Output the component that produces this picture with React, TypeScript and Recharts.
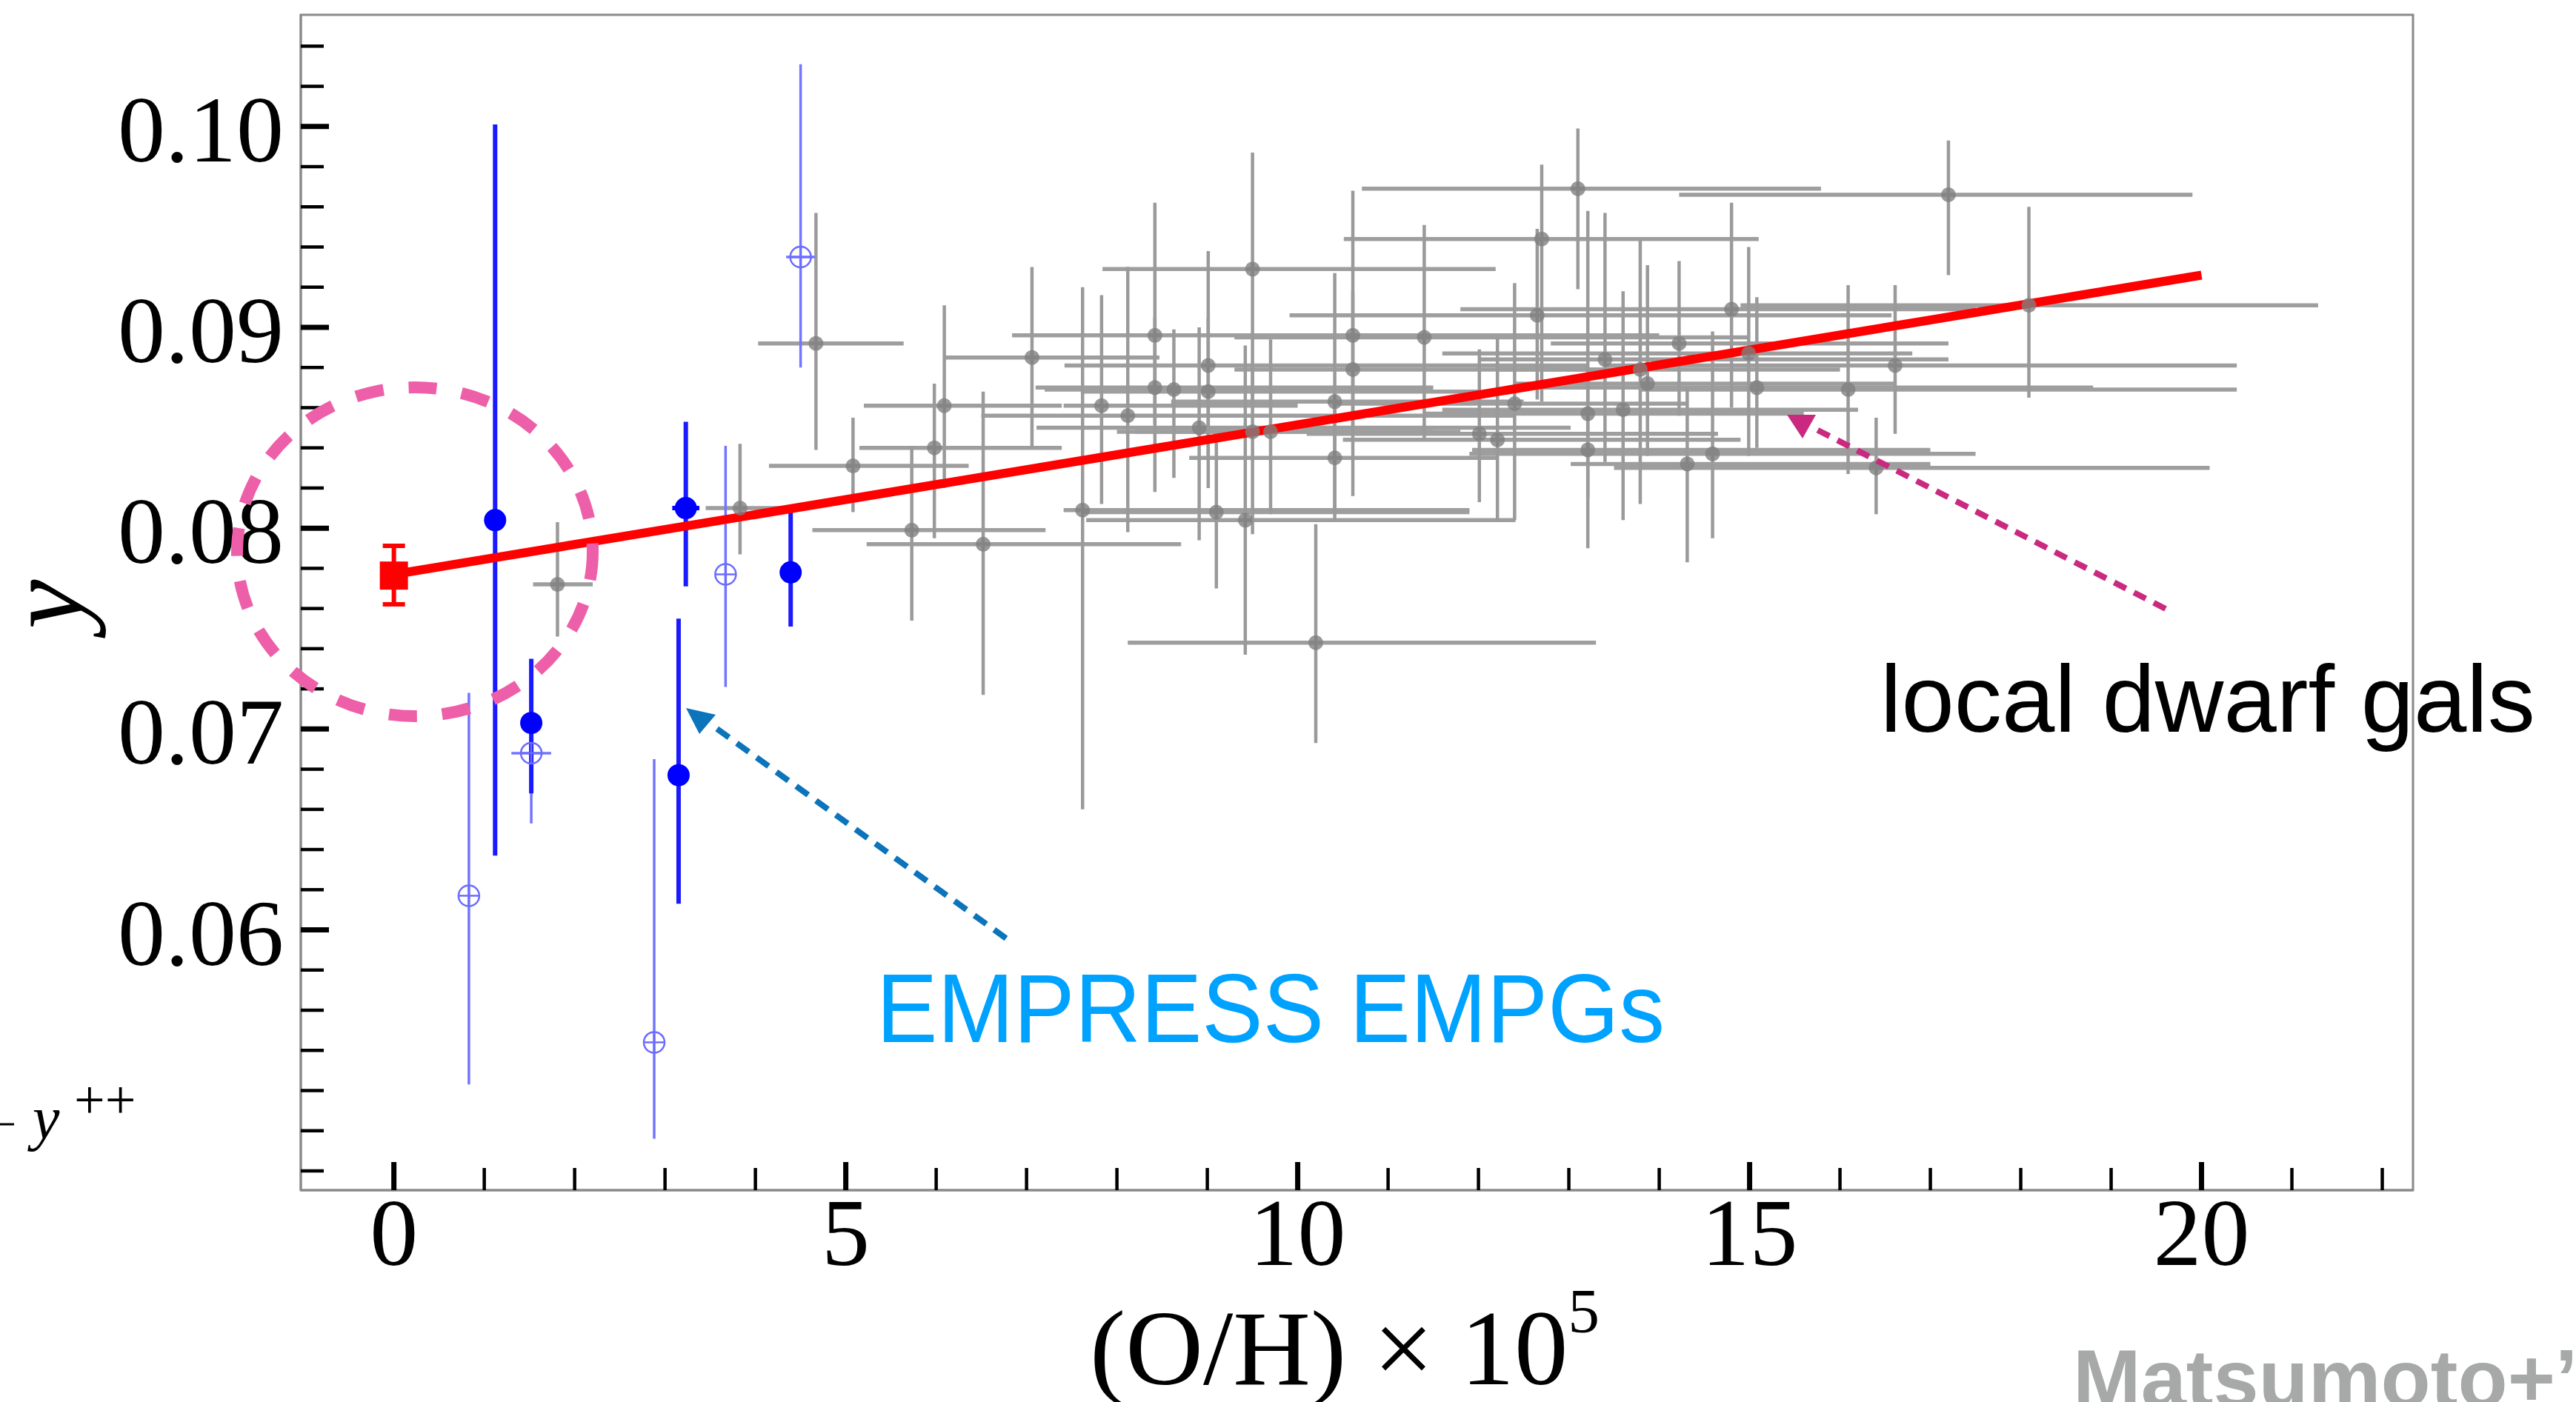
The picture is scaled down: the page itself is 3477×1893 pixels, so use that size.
import React from "react";
import { ScatterChart, Scatter, XAxis, YAxis, ErrorBar, ReferenceArea } from "recharts";

const W = 3477;
const H = 1893;

const X_DOMAIN: [number, number] = [-1.03, 22.34];
const Y_DOMAIN: [number, number] = [0.04704, 0.10556];

const X_TICKS = [0, 1, 2, 3, 4, 5, 6, 7, 8, 9, 10, 11, 12, 13, 14, 15, 16, 17, 18, 19, 20, 21, 22];
const X_LABELS = [0, 5, 10, 15, 20];
const Y_TICKS = [
  0.048, 0.05, 0.052, 0.054, 0.056, 0.058, 0.06, 0.062, 0.064, 0.066, 0.068, 0.07, 0.072, 0.074,
  0.076, 0.078, 0.08, 0.082, 0.084, 0.086, 0.088, 0.09, 0.092, 0.094, 0.096, 0.098, 0.1, 0.102, 0.104,
];
const Y_LABELS = [0.06, 0.07, 0.08, 0.09, 0.1];

// local dwarf galaxies: [x, y, xLow, xHigh, yLow, yHigh]
const LOCAL_DWARFS: number[][] = [
  [1.81, 0.0772, 1.54, 2.2, 0.0746, 0.0803],
  [3.83, 0.081, 3.45, 4.3, 0.0787, 0.0842],
  [4.67, 0.0892, 4.03, 5.64, 0.0839, 0.0957],
  [5.08, 0.0831, 4.15, 6.36, 0.0808, 0.0855],
  [5.73, 0.0799, 4.63, 7.21, 0.0754, 0.0841],
  [5.98, 0.084, 5.15, 7.39, 0.0795, 0.0872],
  [6.09, 0.0861, 5.2, 7.39, 0.082, 0.0911],
  [6.52, 0.0792, 5.23, 8.71, 0.0717, 0.0868],
  [7.06, 0.0885, 6.1, 8.47, 0.084, 0.093],
  [7.62, 0.0809, 7.41, 11.9, 0.066, 0.092],
  [7.83, 0.0861, 7.41, 10.0, 0.0812, 0.0916],
  [8.12, 0.0856, 6.5, 12.4, 0.0798, 0.093],
  [8.42, 0.0896, 6.84, 10.4, 0.0852, 0.0962],
  [8.42, 0.087, 7.1, 11.5, 0.0818, 0.0905],
  [8.63, 0.0869, 7.2, 10.9, 0.0825, 0.0899],
  [8.91, 0.085, 7.11, 13.02, 0.0794, 0.09],
  [9.01, 0.0881, 7.42, 13.2, 0.0836, 0.0938],
  [9.01, 0.0868, 7.6, 12.0, 0.082, 0.0905],
  [9.1, 0.0808, 7.62, 11.9, 0.077, 0.0845],
  [9.42, 0.0804, 7.66, 12.41, 0.0737, 0.0891],
  [9.5, 0.0929, 7.84, 12.19, 0.0862, 0.0987],
  [9.5, 0.0848, 8.0, 11.5, 0.0797, 0.088],
  [9.7, 0.0848, 8.2, 11.8, 0.0807, 0.0894],
  [10.2, 0.0743, 8.12, 13.3, 0.0693, 0.0802],
  [10.41, 0.0863, 8.6, 12.5, 0.0804, 0.0927],
  [10.41, 0.0835, 8.8, 12.2, 0.081, 0.087],
  [10.61, 0.0896, 9.32, 14.0, 0.085, 0.0968],
  [10.61, 0.0879, 9.3, 13.4, 0.0816, 0.0918],
  [11.4, 0.0895, 9.3, 15.0, 0.0844, 0.0951],
  [12.01, 0.0847, 10.1, 14.65, 0.0813, 0.0889],
  [12.21, 0.0844, 10.5, 14.9, 0.0804, 0.0895],
  [12.4, 0.0862, 10.4, 14.3, 0.0804, 0.0922],
  [12.65, 0.0906, 9.91, 16.57, 0.0864, 0.0949],
  [12.7, 0.0944, 10.51, 15.1, 0.0863, 0.0981],
  [13.1, 0.0969, 10.71, 15.79, 0.0919, 0.0999],
  [13.21, 0.0857, 11.4, 15.6, 0.0815, 0.0958],
  [13.21, 0.0839, 11.93, 17.0, 0.079, 0.088],
  [13.4, 0.0884, 12.0, 17.2, 0.0833, 0.0957],
  [13.6, 0.0859, 11.6, 16.2, 0.0804, 0.0918],
  [13.79, 0.0879, 12.2, 16.0, 0.0812, 0.0944],
  [13.87, 0.0872, 12.4, 16.6, 0.0836, 0.0931],
  [14.22, 0.0892, 12.8, 17.2, 0.0856, 0.0933],
  [14.31, 0.0832, 13.02, 17.0, 0.0783, 0.087],
  [14.59, 0.0837, 11.9, 17.5, 0.0795, 0.0898],
  [14.8, 0.0909, 11.8, 17.5, 0.086, 0.0962],
  [14.99, 0.0887, 11.6, 16.8, 0.0836, 0.094],
  [15.08, 0.087, 12.6, 18.8, 0.084, 0.0915],
  [16.09, 0.0869, 13.8, 20.39, 0.0827, 0.0921],
  [16.4, 0.083, 13.5, 20.09, 0.0807, 0.0855],
  [16.61, 0.0881, 13.4, 20.39, 0.0847, 0.0921],
  [17.2, 0.0966, 14.22, 19.9, 0.0926, 0.0993],
  [18.09, 0.0911, 14.9, 21.29, 0.0865, 0.096],
];

// EMPRESS EMPGs, filled: [x, y, xErr, yLow, yHigh]
const EMPG_SOLID: number[][] = [
  [1.12, 0.0804, 0, 0.0637, 0.1001],
  [1.52, 0.0703, 0, 0.0668, 0.0735],
  [3.23, 0.081, 0.15, 0.0771, 0.0853],
  [4.39, 0.0778, 0, 0.0751, 0.0809],
  [3.15, 0.0677, 0, 0.0613, 0.0755],
];

// EMPRESS EMPGs, open: [x, y, xErr, yLow, yHigh]
const EMPG_OPEN: number[][] = [
  [0.83, 0.0617, 0, 0.0523, 0.0718],
  [1.52, 0.0688, 0.22, 0.0653, 0.0722],
  [2.88, 0.0544, 0, 0.0496, 0.0685],
  [3.67, 0.0777, 0, 0.0721, 0.0841],
  [4.5, 0.0935, 0.16, 0.088, 0.1031],
];

// primordial value at O/H = 0
const PRIMORDIAL_X = [0];
const PRIMORDIAL_Y = [0.07764];
const PRIMORDIAL_LOW = [0.07621];
const PRIMORDIAL_HIGH = [0.07912];

const FIT_X = [0, 20];
const FIT_Y = [0.0777, 0.0926];

const dwarfData = LOCAL_DWARFS.map(([x, y, xl, xh, yl, yh]) => ({
  x,
  y,
  ex: [x - xl, xh - x],
  ey: [y - yl, yh - y],
}));
const toEmpg = (rows: number[][]) =>
  rows.map(([x, y, xe, yl, yh]) => ({ x, y, ex: [xe, xe], ey: [y - yl, yh - y] }));
const solidData = toEmpg(EMPG_SOLID);
const openData = toEmpg(EMPG_OPEN);
const primData = PRIMORDIAL_X.map((x, i) => ({
  x,
  y: PRIMORDIAL_Y[i],
  ey: [PRIMORDIAL_Y[i] - PRIMORDIAL_LOW[i], PRIMORDIAL_HIGH[i] - PRIMORDIAL_Y[i]],
}));
const fitData = FIT_X.map((x, i) => ({ x, y: FIT_Y[i] }));

const SERIF = "'Liberation Serif', 'DejaVu Serif', serif";
const SANS = "'Liberation Sans', Arial, sans-serif";

const isLabel = (v: number, labels: number[]) => labels.some((l) => Math.abs(l - v) < 1e-9);

const YTick = (props: any) => {
  const { x, y, payload } = props;
  const major = isLabel(payload.value, Y_LABELS);
  return (
    <g>
      <line x1={x} x2={x + (major ? 38 : 31)} y1={y} y2={y} stroke="#000" strokeWidth={major ? 7 : 4.5} />
      {major && (
        <text x={x - 23} y={y + 47} textAnchor="end" fontFamily={SERIF} fontSize={128} fill="#000">
          {payload.value.toFixed(2)}
        </text>
      )}
    </g>
  );
};

const XTick = (props: any) => {
  const { x, y, payload } = props;
  const major = isLabel(payload.value, X_LABELS);
  return (
    <g>
      <line x1={x} x2={x} y1={y} y2={y - (major ? 38 : 30)} stroke="#000" strokeWidth={major ? 7 : 4.5} />
      {major && (
        <text x={x} y={y + 101} textAnchor="middle" fontFamily={SERIF} fontSize={130} fill="#000">
          {payload.value}
        </text>
      )}
    </g>
  );
};

const GrayDot = (p: any) => <circle cx={p.cx} cy={p.cy} r={10} fill="#7f7f7f" fillOpacity={0.8} />;
const SolidDot = (p: any) => <circle cx={p.cx} cy={p.cy} r={15} fill="#0000ff" />;
const OpenDot = (p: any) => (
  <g stroke="#6c6cff" strokeWidth={2.5} fill="none">
    <circle cx={p.cx} cy={p.cy} r={14} />
    <line x1={p.cx - 14} x2={p.cx + 14} y1={p.cy} y2={p.cy} />
    <line x1={p.cx} x2={p.cx} y1={p.cy - 14} y2={p.cy + 14} />
  </g>
);
const RedSquare = (p: any) => <rect x={p.cx - 19} y={p.cy - 19} width={38} height={38} fill="#ff0000" />;
const NoDot = () => <g />;

export default function App() {
  return (
    <div style={{ position: "absolute", left: 0, top: 0, width: W, height: H, background: "#fff", overflow: "hidden" }}>
      <ScatterChart width={W} height={H} margin={{ top: 20, right: 220, bottom: 0, left: 0 }}>
        <XAxis
          type="number"
          dataKey="x"
          domain={X_DOMAIN}
          ticks={X_TICKS}
          interval={0}
          allowDataOverflow
          height={286}
          tickLine={false}
          tickSize={0}
          tickMargin={0}
          tick={XTick}
          axisLine={{ stroke: "#8a8a8a", strokeWidth: 3 }}
        />
        <YAxis
          type="number"
          dataKey="y"
          domain={Y_DOMAIN}
          ticks={Y_TICKS}
          interval={0}
          allowDataOverflow
          width={406}
          tickLine={false}
          tickSize={0}
          tickMargin={0}
          tick={YTick}
          axisLine={{ stroke: "#8a8a8a", strokeWidth: 3 }}
        />
        <ReferenceArea
          x1={X_DOMAIN[0]}
          x2={X_DOMAIN[1]}
          y1={Y_DOMAIN[0]}
          y2={Y_DOMAIN[1]}
          fill="none"
          stroke="#8a8a8a"
          strokeWidth={3}
          ifOverflow="visible"
        />
        <Scatter data={dwarfData} shape={NoDot} isAnimationActive={false}>
          <ErrorBar dataKey="ex" direction="x" width={0} stroke="#9e9e9e" strokeWidth={5.5} isAnimationActive={false} />
          <ErrorBar dataKey="ey" direction="y" width={0} stroke="#9a9a9a" strokeWidth={4.5} isAnimationActive={false} />
        </Scatter>
        <Scatter data={openData} shape={OpenDot} isAnimationActive={false}>
          <ErrorBar dataKey="ex" direction="x" width={0} stroke="#7474ff" strokeWidth={3.5} isAnimationActive={false} />
          <ErrorBar dataKey="ey" direction="y" width={0} stroke="#7474ff" strokeWidth={3.5} isAnimationActive={false} />
        </Scatter>
        <Scatter data={solidData} shape={SolidDot} isAnimationActive={false}>
          <ErrorBar dataKey="ex" direction="x" width={0} stroke="#0000ff" strokeWidth={6} isAnimationActive={false} />
          <ErrorBar dataKey="ey" direction="y" width={0} stroke="#1a1aff" strokeWidth={6} isAnimationActive={false} />
        </Scatter>
        <Scatter
          data={fitData}
          shape={NoDot}
          line={{ stroke: "#ff0000", strokeWidth: 12 }}
          isAnimationActive={false}
        />
        <Scatter data={dwarfData} shape={GrayDot} isAnimationActive={false} />
        <Scatter data={primData} shape={RedSquare} isAnimationActive={false}>
          <ErrorBar dataKey="ey" direction="y" width={15} stroke="#ff0000" strokeWidth={6} isAnimationActive={false} />
        </Scatter>
      </ScatterChart>

      <svg width={W} height={H} style={{ position: "absolute", left: 0, top: 0, pointerEvents: "none" }}>
        <ellipse cx={560} cy={745} rx={240} ry={222} fill="none" stroke="#ee5fa9" strokeWidth={16} strokeDasharray="38 34" />

        <line x1={1358} y1={1267} x2={958} y2={977} stroke="#0b74ba" strokeWidth={8} strokeDasharray="20 13" />
        <polygon points="926,956 966,965 944,991" fill="#0b74ba" />

        <line x1={2923} y1={822} x2={2452} y2={580} stroke="#c92a7f" strokeWidth={8} strokeDasharray="18 12" />
        <polygon points="2412,560 2451,560 2433,592" fill="#c92a7f" />

        <text x={1183} y={1407} fontFamily={SANS} fontSize={132} fill="#00a2ff" textLength={1064} lengthAdjust="spacingAndGlyphs">
          EMPRESS EMPGs
        </text>
        <text x={2538} y={988} fontFamily={SANS} fontSize={128} fill="#000" textLength={884} lengthAdjust="spacingAndGlyphs">
          local dwarf gals
        </text>
        <text x={2798} y={1899} fontFamily={SANS} fontWeight="bold" fontSize={110} fill="#a6a9a8">
          Matsumoto+’22
        </text>

        <text x={1471} y={1869} fontFamily={SERIF} fontSize={145} fill="#000">
          (O/H) × 10
          <tspan fontSize={85} dy={-70}>5</tspan>
        </text>
        <text
          x={111}
          y={816}
          transform="rotate(-90 111 816)"
          textAnchor="middle"
          fontFamily={SERIF}
          fontStyle="italic"
          fontSize={150}
          fill="#000"
        >
          y
        </text>

        <line x1={0} x2={19} y1={1518} y2={1518} stroke="#000" strokeWidth={3} />
        <text x={44} y={1537} fontFamily={SERIF} fontStyle="italic" fontSize={82} fill="#000">
          y
        </text>
        <text x={100} y={1510} fontFamily={SERIF} fontSize={74} fill="#000">
          ++
        </text>
      </svg>
    </div>
  );
}
